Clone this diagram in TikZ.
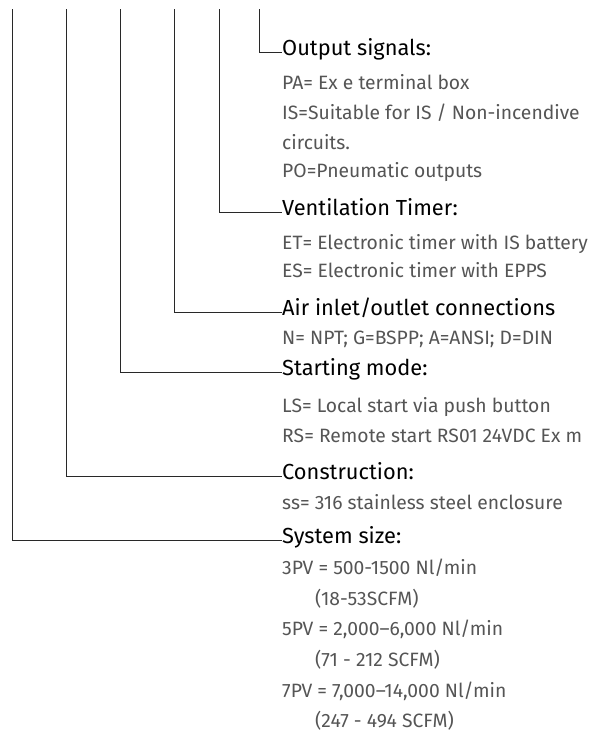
\documentclass[tikz,border=0pt]{standalone}
\usepackage{fontspec}
\setmainfont{Fira Sans}
\definecolor{bodygray}{RGB}{85,85,85}
\definecolor{leadgray}{RGB}{40,40,40}
\begin{document}
\begin{tikzpicture}[x=1pt,y=-1pt,
  hdr/.style={anchor=base west, inner sep=0pt, font=\fontsize{21.8}{22}\selectfont, text=black},
  txt/.style={anchor=base west, inner sep=0pt, font=\fontsize{19.3}{20}\selectfont, text=bodygray},
  lead/.style={draw=leadgray, line width=0.9pt}]
\useasboundingbox (0,0) rectangle (609,731);
% headers
\node[hdr] (h1) at (282,55)  {Output signals:};
\node[hdr] (h2) at (282,215) {Ventilation Timer:};
\node[hdr] (h3) at (282,315) {Air inlet/outlet connections};
\node[hdr] (h4) at (282,375) {Starting mode:};
\node[hdr] (h5) at (282,479) {Construction:};
\node[hdr] (h6) at (282,543) {System size:};
% body texts
\node[txt] (a1) at (282,89)  {PA= Ex e terminal box};
\node[txt] (a2) at (282,119) {IS=Suitable for IS / Non-incendive};
\node[txt] (a3) at (282,149) {circuits.};
\node[txt] (a4) at (282,177) {PO=Pneumatic outputs};
\node[txt] (b1) at (282,249) {ET= Electronic timer with IS battery};
\node[txt] (b2) at (282,277) {ES= Electronic timer with EPPS};
\node[txt] (c1) at (282,344) {N= NPT; G=BSPP; A=ANSI; D=DIN};
\node[txt] (d1) at (282,412) {LS= Local start via push button};
\node[txt] (d2) at (282,442) {RS= Remote start RS01 24VDC Ex m};
\node[txt] (e1) at (282,509) {ss= 316 stainless steel enclosure};
\node[txt] (f1) at (282,574) {3PV = 500-1500 Nl/min};
\node[txt] (f2) at (315,605) {(18-53SCFM)};
\node[txt] (f3) at (282,635) {5PV = 2,000–6,000 Nl/min};
\node[txt] (f4) at (315,666) {(71 - 212 SCFM)};
\node[txt] (f5) at (282,697) {7PV = 7,000–14,000 Nl/min};
\node[txt] (f6) at (315,727) {(247 - 494 SCFM)};
% leader line tops
\coordinate (v1) at (259,9);
\coordinate (v2) at (219,9);
\coordinate (v3) at (174,9);
\coordinate (v4) at (120,9);
\coordinate (v5) at (66,9);
\coordinate (v6) at (12,9);
\draw[lead] (v1) |- ([yshift=3pt]h1.base west);
\draw[lead] (v2) |- ([yshift=3pt]h2.base west);
\draw[lead] (v3) |- ([yshift=3pt]h3.base west);
\draw[lead] (v4) |- ([yshift=3pt]h4.base west);
\draw[lead] (v5) |- ([yshift=3pt]h5.base west);
\draw[lead] (v6) |- ([yshift=3pt]h6.base west);
\end{tikzpicture}
\end{document}
